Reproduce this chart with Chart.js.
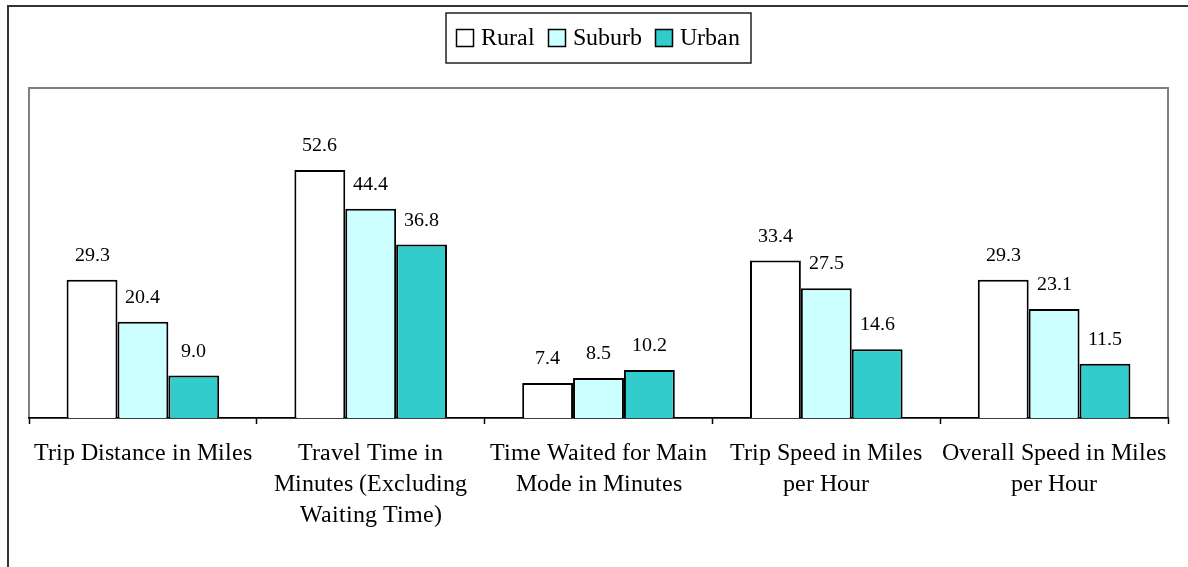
<!DOCTYPE html>
<html>
<head>
<meta charset="utf-8">
<script src="https://cdn.jsdelivr.net/npm/chart.js@4/dist/chart.umd.min.js"></script>
<style>
  @font-face {
    font-family: 'ChartSerif';
    src: local('Liberation Serif'), local('LiberationSerif'), local('LiberationSerif-Regular'),
         local('Times New Roman'), local('Tinos'), local('DejaVu Serif');
  }
  html, body { margin: 0; padding: 0; background: #fff; }
  #wrap { width: 1188px; height: 567px; position: relative; }
  #warm { font-family: 'ChartSerif'; position: absolute; left: -999px; }
</style>
</head>
<body>
<span id="warm">0</span>
<div id="wrap"><canvas id="chart"></canvas></div>
<script>
// --- dados ---
const categories = [
    'Trip Distance in Miles',
    ['Travel Time in', 'Minutes (Excluding', 'Waiting Time)'],
    ['Time Waited for Main', 'Mode in Minutes'],
    ['Trip Speed in Miles', 'per Hour'],
    ['Overall Speed in Miles', 'per Hour']
];
const rural = [29.3, 52.6, 7.4, 33.4, 29.3];
const suburb = [20.4, 44.4, 8.5, 27.5, 23.1];
const urban = [9.0, 36.8, 10.2, 14.6, 11.5];
const seriesNames = ['Rural', 'Suburb', 'Urban'];
const seriesColors = ['#FFFFFF', '#CCFFFF', '#33CCCC'];

const SERIF = 'ChartSerif, "Liberation Serif", "Times New Roman", serif';

// moldura externa + borda cinza da area do grafico
const framePlugin = {
    id: 'frame',
    beforeDraw: (chart) => {
        const ctx = chart.ctx;
        ctx.save();
        ctx.strokeStyle = '#333';
        ctx.lineWidth = 2;
        ctx.beginPath();
        ctx.moveTo(8, 567);
        ctx.lineTo(8, 6);
        ctx.lineTo(1188, 6);
        ctx.stroke();
        const a = chart.chartArea;
        ctx.strokeStyle = '#808080';
        ctx.strokeRect(a.left, a.top, a.right - a.left, a.bottom - a.top);
        ctx.restore();
    }
};

// legenda desenhada a mao, com caixa
const legendPlugin = {
    id: 'boxLegend',
    afterDraw: (chart) => {
        const ctx = chart.ctx;
        ctx.save();
        ctx.font = '24px ' + SERIF;
        ctx.textBaseline = 'middle';
        const sq = 17, gap = 7, itemGap = 14;
        const widths = seriesNames.map(n => sq + gap + ctx.measureText(n).width);
        const total = widths.reduce((s, w) => s + w, 0) + itemGap * (widths.length - 1);
        const cx = 598, cy = 38;
        ctx.strokeStyle = '#222';
        ctx.lineWidth = 1.5;
        ctx.strokeRect(446, 13, 305, 50);
        let x = cx - total / 2;
        seriesNames.forEach((n, i) => {
            ctx.fillStyle = seriesColors[i];
            ctx.fillRect(x, cy - sq / 2, sq, sq);
            ctx.strokeStyle = '#000';
            ctx.lineWidth = 1.5;
            ctx.strokeRect(x, cy - sq / 2, sq, sq);
            ctx.fillStyle = '#000';
            ctx.fillText(n, x + sq + gap, cy + 1);
            x += widths[i] + itemGap;
        });
        ctx.restore();
    }
};

// rotulos de valor acima das barras
const valueLabels = {
    id: 'valueLabels',
    afterDatasetsDraw: (chart) => {
        const ctx = chart.ctx;
        ctx.save();
        ctx.font = '20px ' + SERIF;
        ctx.fillStyle = '#000';
        ctx.textAlign = 'center';
        ctx.textBaseline = 'alphabetic';
        chart.data.datasets.forEach((ds, i) => {
            chart.getDatasetMeta(i).data.forEach((bar, j) => {
                ctx.fillText(ds.data[j].toFixed(1), bar.x, bar.y - 19);
            });
        });
        ctx.restore();
    }
};

const seriesData = [rural, suburb, urban];

function build() {
    new Chart(document.getElementById('chart'), {
        type: 'bar',
        data: {
            labels: categories,
            datasets: seriesNames.map((name, i) => ({
                label: name,
                data: seriesData[i],
                backgroundColor: seriesColors[i],
                borderColor: '#000',
                borderWidth: 2,
                categoryPercentage: 0.67,
                barPercentage: 1
            }))
        },
        options: {
            responsive: true,
            maintainAspectRatio: false,
            animation: false,
            layout: { padding: { top: 88, left: 29, right: 20, bottom: 0 } },
            plugins: {
                legend: { display: false },
                tooltip: { enabled: false }
            },
            scales: {
                y: { display: false, min: 0, max: 70 },
                x: {
                    afterFit: (scale) => { scale.height = 149; },
                    grid: {
                        drawOnChartArea: false,
                        drawTicks: true,
                        tickLength: 6,
                        tickColor: '#000',
                        tickWidth: 1.5
                    },
                    border: { display: true, color: '#000', width: 1.5 },
                    ticks: {
                        color: '#000',
                        padding: 14,
                        maxRotation: 0,
                        autoSkip: false,
                        font: { family: SERIF, size: 24, lineHeight: '31px' }
                    }
                }
            }
        },
        plugins: [framePlugin, legendPlugin, valueLabels]
    });
}

// espera a fonte serifada antes de desenhar
document.fonts.load('24px ChartSerif').then(build, build);
</script>
</body>
</html>
